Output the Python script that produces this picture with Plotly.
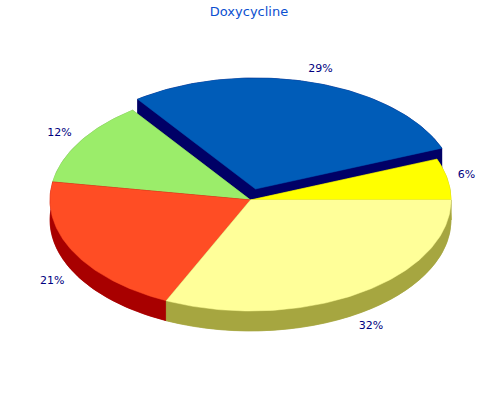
import numpy as np
import plotly.graph_objects as go

# Data
title = "Doxycycline"
labels = ["6%", "29%", "12%", "21%", "32%"]
values = [6, 29, 12.4, 20.7, 31.9]

# Styling (same order as values)
top_colors = ["#FFFF00", "#005CB8", "#9BED6A", "#FF4D24", "#FFFF99"]
side_colors = ["#A6A600", "#000066", "#66A040", "#A80000", "#A6A640"]
exploded = [False, True, False, False, False]
draw_order = [1, 0, 2, 3, 4]
label_nudge = [(-2, 0), (3, 5), (-2, 2), (-2, 0), (1, -3)]

CX, CY, RX, RY, DEPTH = 250.5, 200, 200.5, 111, 20
EX, EY = 5, -11
LRX, LRY = 222, 130

total = sum(values)
edges = np.cumsum([0] + values) / total * 2 * np.pi


def arc(a0, a1, dx, dy):
    t = np.linspace(a0, a1, max(int((a1 - a0) * 60), 2))
    return CX + dx + RX * np.cos(t), CY + dy - RY * np.sin(t)


def poly(fig, x, y, color):
    fig.add_trace(go.Scatter(x=list(x), y=list(y), mode="lines", fill="toself",
                             fillcolor=color, line=dict(width=0.5, color=color),
                             hoverinfo="skip", showlegend=False))


fig = go.Figure()
for i in draw_order:
    a0, a1 = edges[i], edges[i + 1]
    dx, dy = (EX, EY) if exploded[i] else (0, 0)
    ax, ay = arc(a0, a1, dx, dy)
    cx, cy = CX + dx, CY + dy
    # extruded body: lower sector, both radial walls and outer band
    poly(fig, np.r_[cx, ax, cx], np.r_[cy, ay, cy] + DEPTH, side_colors[i])
    poly(fig, [cx, ax[0], ax[0], cx], [cy, ay[0], ay[0] + DEPTH, cy + DEPTH], side_colors[i])
    poly(fig, [cx, ax[-1], ax[-1], cx], [cy, ay[-1], ay[-1] + DEPTH, cy + DEPTH], side_colors[i])
    poly(fig, np.r_[ax, ax[::-1]], np.r_[ay, ay[::-1] + DEPTH], side_colors[i])
    # top face
    poly(fig, np.r_[cx, ax, cx], np.r_[cy, ay, cy], top_colors[i])

# percentage labels
mids = (edges[:-1] + edges[1:]) / 2
lx, ly = [], []
for i, m in enumerate(mids):
    dx, dy = (EX, EY) if exploded[i] else (0, 0)
    lx.append(CX + dx + LRX * np.cos(m) + label_nudge[i][0])
    ly.append(CY + dy - LRY * np.sin(m) + (DEPTH if np.sin(m) < 0 else 0) + label_nudge[i][1])
fig.add_trace(go.Scatter(x=lx, y=ly, mode="text", text=labels,
                         textfont=dict(family="DejaVu Sans", size=11, color="#000080"),
                         hoverinfo="skip", showlegend=False))

fig.update_layout(
    width=500, height=400, margin=dict(l=0, r=0, t=0, b=0),
    paper_bgcolor="white", plot_bgcolor="white",
    title=dict(text=title, x=0.498, xanchor="center", y=0.972, yanchor="middle",
               font=dict(family="DejaVu Sans", size=13, color="#0B4FD0")),
    xaxis=dict(range=[0, 500], visible=False),
    yaxis=dict(range=[400, 0], visible=False),
)
fig.write_html("out.html", config={"displayModeBar": False},
               post_script="document.body.style.margin='0';")
